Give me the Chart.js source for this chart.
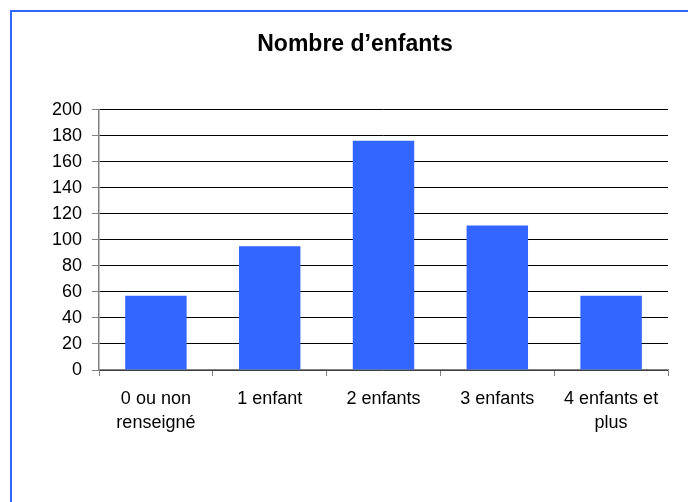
<!DOCTYPE html>
<html>
<head>
<meta charset="utf-8">
<script src="https://cdn.jsdelivr.net/npm/chart.js@4.4.0/dist/chart.umd.min.js"></script>
<style>
  body { margin: 0; background: #fff; }
  #wrap { position: relative; width: 688px; height: 502px; overflow: hidden; }
  #cadre { position: absolute; left: 10px; top: 10px; width: 800px; height: 600px;
           border-left: 2px solid #3366ff; border-top: 2px solid #3366ff; pointer-events: none; }
</style>
</head>
<body>
<div id="wrap">
  <canvas class="chart" width="688" height="502"></canvas>
  <div id="cadre"></div>
</div>
<script>
var categories = [["0 ou non", "renseigné"], "1 enfant", "2 enfants", "3 enfants", ["4 enfants et", "plus"]];
var effectifs = [57, 95, 176, 111, 57];
var titre = "Nombre d’enfants";

window.onload = function generarChart(){
  var datos = {
    type: "bar",
    data: {
      labels: categories,
      datasets: [{
        data: effectifs,
        backgroundColor: "#3366ff",
        barPercentage: 0.54,
        categoryPercentage: 1
      }]
    },
    options: {
      responsive: false,
      animation: false,
      layout: { padding: { left: 42, right: 20, top: 0, bottom: 0 } },
      plugins: {
        legend: { display: false },
        tooltip: { enabled: false },
        title: {
          display: true,
          text: titre,
          color: "#000",
          font: { family: "Arial, 'Liberation Sans'", size: 23, weight: "bold", lineHeight: 1.2 },
          padding: { top: 31, bottom: 51 }
        }
      },
      scales: {
        x: {
          offset: true,
          afterFit: function(s){ s.height = 132; },
          grid: { drawOnChartArea: false, color: "#808080", tickLength: 6, lineWidth: 1 },
          border: { color: "#808080", width: 1.5 },
          ticks: {
            color: "#000",
            padding: 11,
            maxRotation: 0,
            autoSkip: false,
            font: { family: "Arial, 'Liberation Sans'", size: 18, lineHeight: 1.33 }
          }
        },
        y: {
          min: 0,
          max: 200,
          afterFit: function(s){ s.width = 57; },
          grid: { color: "#000", tickColor: "#808080", tickLength: 7, lineWidth: 1 },
          border: { color: "#808080", width: 1.5 },
          ticks: {
            stepSize: 20,
            color: "#000",
            padding: 10,
            font: { family: "Arial, 'Liberation Sans'", size: 18 }
          }
        }
      }
    }
  };

  var ctx = document.querySelector('.chart').getContext('2d');
  window.bar = new Chart(ctx, datos);
};
</script>
</body>
</html>
